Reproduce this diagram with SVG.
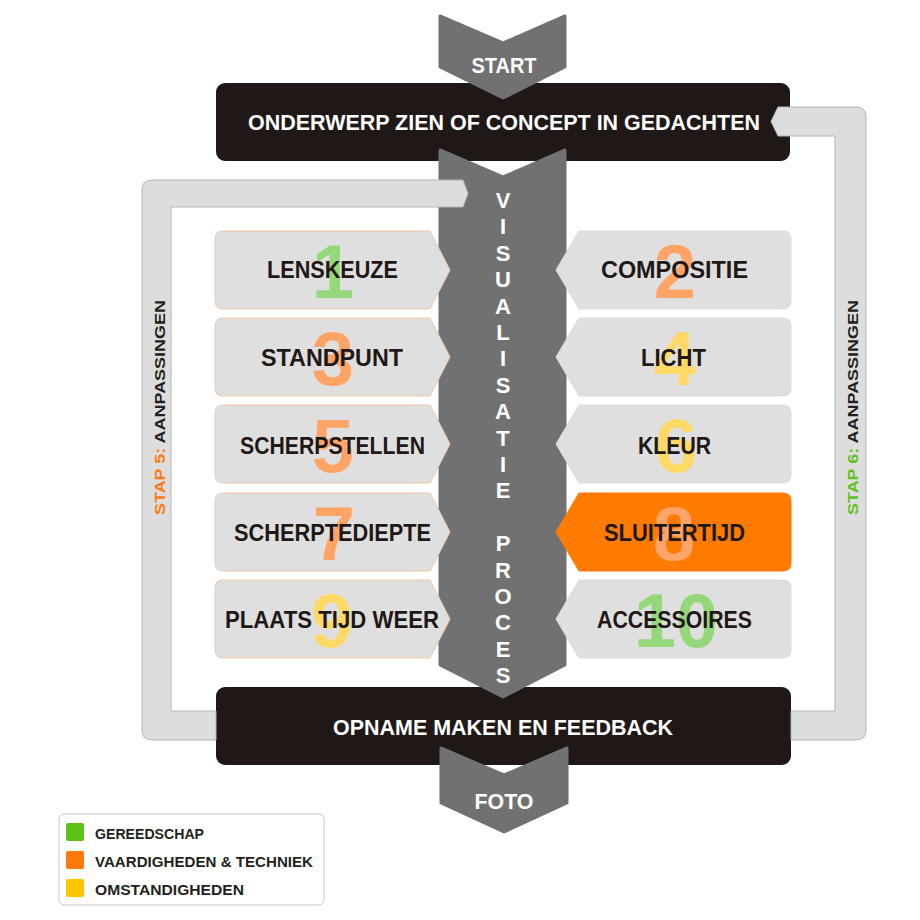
<svg xmlns="http://www.w3.org/2000/svg" width="920" height="920" viewBox="0 0 920 920">
<style>
.bg{fill:#ffffff}
.blk{fill:#1f1816}
.dark{fill:#727171;stroke:#727171;stroke-width:3;stroke-linejoin:round}
.loop{fill:#dddddd;stroke:#b4b4b4;stroke-width:1}
.nodeL{fill:#dfdfdf;stroke:#f4c7a4;stroke-width:1}
.nodeR{fill:#dfdfdf;stroke:#dcdcdc;stroke-width:1}
.nodeO{fill:#ff7b00;stroke:#ff7b00;stroke-width:1}
.lbl{font-family:"Liberation Sans",Arial,sans-serif;font-weight:bold;font-size:23px;fill:#1f1816;text-anchor:middle}
.wt{font-family:"Liberation Sans",Arial,sans-serif;font-weight:bold;font-size:22px;fill:#ffffff;text-anchor:middle}
.num{font-family:"Liberation Sans",Arial,sans-serif;font-weight:bold;font-size:76px;text-anchor:middle}
.g{fill:#95d87c}
.o{fill:#ffa466}
.y{fill:#ffd966}
.o8{fill:#ffa56c}
.side{font-family:"Liberation Sans",Arial,sans-serif;font-weight:bold;font-size:14px;fill:#231f20}
.leg{font-family:"Liberation Sans",Arial,sans-serif;font-weight:bold;font-size:14px;fill:#231f20}
</style>
<rect class="bg" x="0" y="0" width="920" height="920"/>

<g id="top-box">
<rect class="blk" x="216" y="83" width="574" height="78" rx="9"/>
<text class="wt" x="504" y="130" textLength="512" lengthAdjust="spacingAndGlyphs">ONDERWERP ZIEN OF CONCEPT IN GEDACHTEN</text>
</g>
<g id="bottom-box">
<rect class="blk" x="216" y="687" width="575" height="78" rx="9"/>
<text class="wt" x="503" y="735" textLength="340" lengthAdjust="spacingAndGlyphs">OPNAME MAKEN EN FEEDBACK</text>
</g>

<g id="visualisatie">
<path class="dark" d="M440 150 L503 177 L565 150 L565 665 L503 697 L440 665 Z"/>
<text class="wt" font-size="21" x="503">
<tspan x="503" y="208">V</tspan><tspan x="503" y="234.4">I</tspan><tspan x="503" y="260.8">S</tspan><tspan x="503" y="287.2">U</tspan><tspan x="503" y="313.6">A</tspan><tspan x="503" y="340">L</tspan><tspan x="503" y="366.4">I</tspan><tspan x="503" y="392.8">S</tspan><tspan x="503" y="419.2">A</tspan><tspan x="503" y="445.6">T</tspan><tspan x="503" y="472">I</tspan><tspan x="503" y="498.4">E</tspan><tspan x="503" y="551.2">P</tspan><tspan x="503" y="577.6">R</tspan><tspan x="503" y="604">O</tspan><tspan x="503" y="630.4">C</tspan><tspan x="503" y="656.8">E</tspan><tspan x="503" y="683.2">S</tspan>
</text>
</g>

<g id="start">
<path class="dark" d="M440 16 L503 43 L565 16 L565 67 L503 98 L440 67 Z"/>
<text class="wt" x="504" y="73" textLength="65" lengthAdjust="spacingAndGlyphs">START</text>
</g>
<g id="foto">
<path class="dark" d="M441 748 L504 775 L567 748 L567 803 L504 832 L441 803 Z"/>
<text class="wt" x="504" y="809" textLength="59" lengthAdjust="spacingAndGlyphs">FOTO</text>
</g>

<g id="connectors">
<path id="loop-left" class="loop" d="M463 180 L468 193.5 L463 207 L171 207 L171 711 L216 711 L216 740 L152 740 Q142 740 142 730 L142 190 Q142 180 152 180 Z"/>
<path id="loop-right" class="loop" d="M771 121.5 L778 107 L856 107 Q866 107 866 117 L866 730 Q866 740 856 740 L791 740 L791 711 L835 711 L835 136 L778 136 Z"/>
</g>

<g id="stap5">
<text class="side" transform="translate(165,515) rotate(-90)" textLength="215" lengthAdjust="spacingAndGlyphs"><tspan fill="#ff7a12">STAP 5:</tspan> AANPASSINGEN</text>
</g>
<g id="stap6">
<text class="side" transform="translate(858,515) rotate(-90)" textLength="215" lengthAdjust="spacingAndGlyphs"><tspan fill="#5fc21c">STAP 6:</tspan> AANPASSINGEN</text>
</g>

<g id="n1">
<path class="nodeL" d="M223 231 H430 L450 270 L430 309 H223 Q215 309 215 301 V239 Q215 231 223 231 Z"/>
<text class="num g" x="333" y="298">1</text>
<text class="lbl" x="332.5" y="278" textLength="131" lengthAdjust="spacingAndGlyphs">LENSKEUZE</text>
</g>
<g id="n2">
<path class="nodeR" d="M579 231 H783 Q791 231 791 239 V301 Q791 309 783 309 H579 L556 270 Z"/>
<text class="num o" x="675" y="298">2</text>
<text class="lbl" x="674.5" y="278" textLength="147" lengthAdjust="spacingAndGlyphs">COMPOSITIE</text>
</g>
<g id="n3">
<path class="nodeL" d="M223 318 H430 L450 357 L430 396 H223 Q215 396 215 388 V326 Q215 318 223 318 Z"/>
<text class="num o" x="333" y="385">3</text>
<text class="lbl" x="332" y="366" textLength="142" lengthAdjust="spacingAndGlyphs">STANDPUNT</text>
</g>
<g id="n4">
<path class="nodeR" d="M579 318 H783 Q791 318 791 326 V388 Q791 396 783 396 H579 L556 357 Z"/>
<text class="num y" x="675" y="385">4</text>
<text class="lbl" x="673.5" y="366" textLength="65" lengthAdjust="spacingAndGlyphs">LICHT</text>
</g>
<g id="n5">
<path class="nodeL" d="M223 405 H430 L450 444 L430 483 H223 Q215 483 215 475 V413 Q215 405 223 405 Z"/>
<text class="num o" x="333" y="472">5</text>
<text class="lbl" x="332.5" y="454" textLength="185" lengthAdjust="spacingAndGlyphs">SCHERPSTELLEN</text>
</g>
<g id="n6">
<path class="nodeR" d="M579 405 H783 Q791 405 791 413 V475 Q791 483 783 483 H579 L556 444 Z"/>
<text class="num y" x="676" y="472">6</text>
<text class="lbl" x="674.5" y="454" textLength="73" lengthAdjust="spacingAndGlyphs">KLEUR</text>
</g>
<g id="n7">
<path class="nodeL" d="M223 493 H430 L450 532 L430 571 H223 Q215 571 215 563 V501 Q215 493 223 493 Z"/>
<text class="num o" x="334" y="560">7</text>
<text class="lbl" x="332.5" y="541" textLength="197" lengthAdjust="spacingAndGlyphs">SCHERPTEDIEPTE</text>
</g>
<g id="n8">
<path class="nodeO" d="M579 493 H783 Q791 493 791 501 V563 Q791 571 783 571 H579 L556 532 Z"/>
<text class="num o8" x="674" y="560">8</text>
<text class="lbl" x="674.5" y="541" textLength="141" lengthAdjust="spacingAndGlyphs">SLUITERTIJD</text>
</g>
<g id="n9">
<path class="nodeL" d="M223 580 H430 L450 619 L430 658 H223 Q215 658 215 650 V588 Q215 580 223 580 Z"/>
<text class="num y" x="332" y="647">9</text>
<text class="lbl" x="332" y="628" textLength="214" lengthAdjust="spacingAndGlyphs">PLAATS TIJD WEER</text>
</g>
<g id="n10">
<path class="nodeR" d="M579 580 H783 Q791 580 791 588 V650 Q791 658 783 658 H579 L556 619 Z"/>
<text class="num g" x="676" y="647">10</text>
<text class="lbl" x="674.5" y="628" textLength="155" lengthAdjust="spacingAndGlyphs">ACCESSOIRES</text>
</g>

<g id="legend">
<rect x="59" y="814" width="265" height="91" rx="5" fill="#ffffff" stroke="#c8c8c8" stroke-width="1"/>
<rect x="66" y="823" width="18" height="18" rx="2" fill="#5cc214"/>
<rect x="66" y="851" width="18" height="18" rx="2" fill="#ff7a0d"/>
<rect x="66" y="879" width="18" height="18" rx="2" fill="#ffc600"/>
<text class="leg" x="95" y="839" textLength="109" lengthAdjust="spacingAndGlyphs">GEREEDSCHAP</text>
<text class="leg" x="95" y="867" textLength="218" lengthAdjust="spacingAndGlyphs">VAARDIGHEDEN &amp; TECHNIEK</text>
<text class="leg" x="95" y="895" textLength="149" lengthAdjust="spacingAndGlyphs">OMSTANDIGHEDEN</text>
</g>
</svg>
